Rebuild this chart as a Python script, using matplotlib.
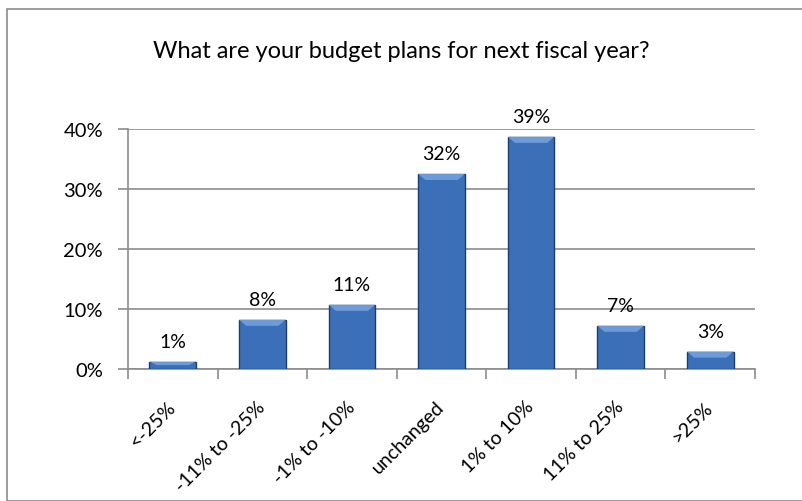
import matplotlib.pyplot as plt
import matplotlib.patches as patches
import numpy as np

categories = ["<-25%", "-11% to -25%", "-1% to -10%", "unchanged",
              "1% to 10%", "11% to 25%", ">25%"]
values = [1.2, 8.2, 10.7, 32.5, 38.7, 7.2, 2.9]
labels = ["1%", "8%", "11%", "32%", "39%", "7%", "3%"]
yticks = [0, 10, 20, 30, 40]

plt.rcParams['font.family'] = ['Lato', 'DejaVu Sans']

fig = plt.figure(figsize=(8.02, 5.02), dpi=100)
ax = fig.add_axes([0.1596, 0.2629, 0.7818, 0.4781])

x = np.arange(len(categories))
bars = ax.bar(x, values, width=0.52, color="#3b70b8", edgecolor="#1d3d6e",
              linewidth=1.0, zorder=3)

# light bevel strip on top of each bar
for b in bars:
    h = b.get_height()
    bx, bw = b.get_x(), b.get_width()
    strip = min(1.0, h * 0.45)
    ax.add_patch(patches.Polygon(
        [(bx, h), (bx + bw, h), (bx + bw - 0.08, h - strip), (bx + 0.08, h - strip)],
        closed=True, facecolor="#6d9bd8", edgecolor="none", zorder=4))

for xi, v, lab in zip(x, values, labels):
    ax.text(xi, v + 2.0, lab, ha="center", va="bottom", fontsize=14)

ax.set_xlim(-0.5, len(categories) - 0.5)
ax.set_ylim(0, 40)
ax.set_yticks(yticks)
ax.set_yticklabels([f"{t}%" for t in yticks], fontsize=14.5)
ax.yaxis.grid(True, color="#8c8c8c", linewidth=1.2, zorder=0)
ax.set_axisbelow(True)

ax.set_xticks(x)
ax.set_xticklabels(categories, rotation=45, ha="right", va="center",
                   rotation_mode="anchor", fontsize=14)
ax.tick_params(axis="x", length=0, pad=25)
ax.set_xticks(np.arange(-0.5, len(categories)), minor=True)
ax.tick_params(axis="x", which="minor", length=7, color="#8c8c8c", width=1.2)
ax.tick_params(axis="y", length=7, color="#8c8c8c", width=1.2, pad=11)

for s in ["top", "right"]:
    ax.spines[s].set_visible(False)
for s in ["left", "bottom"]:
    ax.spines[s].set_color("#8c8c8c")
    ax.spines[s].set_linewidth(1.2)

fig.text(0.5, 0.898, "What are your budget plans for next fiscal year?",
         ha="center", va="center", fontsize=17)

fig.patches.append(patches.Rectangle((7 / 802, 0), 1, 1 - 10 / 502,
                                     transform=fig.transFigure, fill=False,
                                     edgecolor="#8c8c8c", linewidth=1.2))

fig.savefig("out.png", dpi=100)
